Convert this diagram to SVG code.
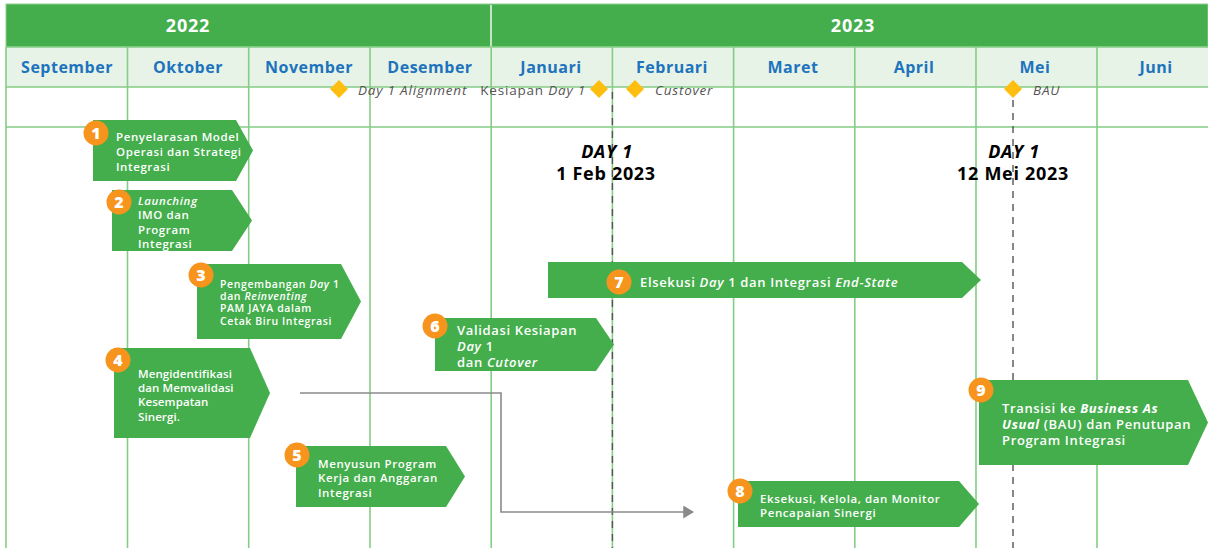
<svg xmlns="http://www.w3.org/2000/svg" width="1208" height="548" viewBox="0 0 1208 548">
<defs>
<style>
.yr{font-family:"Open Sans","Liberation Sans",sans-serif;font-weight:700;font-size:18px;letter-spacing:0.8px;fill:#fff;text-anchor:middle}
.mo{font-family:"Open Sans","Liberation Sans",sans-serif;font-weight:700;font-size:16px;letter-spacing:0.5px;fill:#1d74bd;text-anchor:middle}
.ms{font-family:"Open Sans","Liberation Sans",sans-serif;font-style:italic;font-size:13.5px;letter-spacing:0.8px;fill:#555}
.grid{stroke:#84cd84;stroke-width:1.6;fill:none}
.dash{stroke:#555;stroke-width:1.4;stroke-dasharray:7 6;fill:none}
.box{fill:#43ae4b}
.bt{font-family:"Open Sans","Liberation Sans",sans-serif;font-weight:600;font-size:11.5px;letter-spacing:0.6px;fill:#fff}
.bt4{font-family:"Open Sans","Liberation Sans",sans-serif;font-weight:600;font-size:11.5px;letter-spacing:0.1px;fill:#fff}
.bt2{font-family:"Open Sans","Liberation Sans",sans-serif;font-weight:600;font-size:13px;letter-spacing:0.65px;fill:#fff}
.bt3{font-family:"Open Sans","Liberation Sans",sans-serif;font-weight:600;font-size:10.5px;letter-spacing:0.6px;fill:#fff}
.badge{fill:#f7941d}
.bn{font-family:"Open Sans","Liberation Sans",sans-serif;font-weight:800;font-size:16px;fill:#fff;text-anchor:middle}
.dia{fill:#fdbe10}
.day{font-family:"Open Sans","Liberation Sans",sans-serif;font-weight:700;font-size:18px;letter-spacing:0.7px;fill:#000;text-anchor:middle}
.conn{stroke:#8a8a8a;stroke-width:1.6;fill:none}
</style>
<marker id="arr" viewBox="0 0 10 12" refX="9" refY="6" markerWidth="11" markerHeight="13" markerUnits="userSpaceOnUse" orient="auto">
<path d="M0 0 L10 6 L0 12 Z" fill="#8a8a8a"/>
</marker>
</defs>
<rect width="1208" height="548" fill="#fff"/>

<g id="header">
<rect x="6" y="4" width="1202" height="43" fill="#43ae4b" stroke="#8fd08f" stroke-width="1"/>
<line x1="491" y1="5" x2="491" y2="47" stroke="#e6f3e6" stroke-width="1.6"/>
<text class="yr" x="188" y="32">2022</text>
<text class="yr" x="853" y="32">2023</text>
<rect x="6" y="47" width="1202" height="40" fill="#e8f3e7"/>
<text class="mo" x="67" y="73">September</text>
<text class="mo" x="188" y="73">Oktober</text>
<text class="mo" x="309" y="73">November</text>
<text class="mo" x="430" y="73">Desember</text>
<text class="mo" x="551" y="73">Januari</text>
<text class="mo" x="672" y="73">Februari</text>
<text class="mo" x="793" y="73">Maret</text>
<text class="mo" x="914" y="73">April</text>
<text class="mo" x="1035" y="73">Mei</text>
<text class="mo" x="1156" y="73">Juni</text>
</g>

<g id="grid">
<path class="grid" d="M6 47 V548 M127.5 47 V548 M248.7 47 V548 M370 47 V548 M491.2 47 V548 M612.4 47 V548 M733.6 47 V548 M854.8 47 V548 M976 47 V548 M1097 47 V548"/>
<path class="grid" d="M6 47 H1208 M6 87 H1208 M6 127 H1208"/>
<path class="dash" d="M612.4 92 V548"/>
<path class="dash" d="M1013 100 V548"/>
</g>

<g id="milestones">
<path class="dia" d="M339 80 L348 89 L339 98 L330 89 Z"/>
<text class="ms" x="358" y="95">Day 1 Alignment</text>
<path class="dia" d="M599 80 L608 89 L599 98 L590 89 Z"/>
<text class="ms" x="586" y="95" text-anchor="end"><tspan font-style="normal">Kesiapan </tspan>Day 1</text>
<path class="dia" d="M635 80 L644 89 L635 98 L626 89 Z"/>
<text class="ms" x="655" y="95">Custover</text>
<path class="dia" d="M1013 80 L1022 89 L1013 98 L1004 89 Z"/>
<text class="ms" x="1033" y="95">BAU</text>
</g>

<g id="day1-labels">
<text class="day" x="607" y="158" font-style="italic">DAY 1</text>
<text class="day" x="606" y="180">1 Feb 2023</text>
<text class="day" x="1014" y="158" font-style="italic">DAY 1</text>
<text class="day" x="1013" y="180">12 Mei 2023</text>
</g>

<g id="connectors">
<path class="conn" d="M300 393 H501 V512 H693" marker-end="url(#arr)"/>
</g>

<g id="node1">
<path class="box" d="M93 120 H236 L253 150.5 L236 181 H93 Z"/>
<circle class="badge" cx="96" cy="133" r="12.5"/>
<text class="bn" x="96" y="139">1</text>
<text class="bt" x="116" y="141">Penyelarasan Model</text>
<text class="bt" x="116" y="156">Operasi dan Strategi</text>
<text class="bt" x="116" y="171">Integrasi</text>
</g>

<g id="node2">
<path class="box" d="M112 190 H232 L252 220.5 L232 251 H112 Z"/>
<circle class="badge" cx="119" cy="202" r="12.5"/>
<text class="bn" x="119" y="208">2</text>
<text class="bt" x="138" y="205" font-style="italic">Launching</text>
<text class="bt" x="138" y="219">IMO dan</text>
<text class="bt" x="138" y="234">Program</text>
<text class="bt" x="138" y="248">Integrasi</text>
</g>

<g id="node3">
<path class="box" d="M197 264 H341 L361 301.5 L341 339 H197 Z"/>
<circle class="badge" cx="201" cy="275" r="12.5"/>
<text class="bn" x="201" y="281">3</text>
<text class="bt3" x="220" y="288">Pengembangan <tspan font-style="italic">Day</tspan> 1</text>
<text class="bt3" x="220" y="300">dan <tspan font-style="italic">Reinventing</tspan></text>
<text class="bt3" x="220" y="312">PAM JAYA dalam</text>
<text class="bt3" x="220" y="325">Cetak Biru Integrasi</text>
</g>

<g id="node4">
<path class="box" d="M114 348 H250 L270 393 L250 438 H114 Z"/>
<circle class="badge" cx="118" cy="360" r="12.5"/>
<text class="bn" x="118" y="366">4</text>
<text class="bt4" x="138" y="378">Mengidentifikasi</text>
<text class="bt4" x="138" y="392">dan Memvalidasi</text>
<text class="bt4" x="138" y="406">Kesempatan</text>
<text class="bt4" x="138" y="421">Sinergi.</text>
</g>

<g id="node5">
<path class="box" d="M296 446 H446 L465 476.5 L446 507 H296 Z"/>
<circle class="badge" cx="297" cy="455" r="12.5"/>
<text class="bn" x="297" y="461">5</text>
<text class="bt" x="318" y="468">Menyusun Program</text>
<text class="bt" x="318" y="482">Kerja dan Anggaran</text>
<text class="bt" x="318" y="497">Integrasi</text>
</g>

<g id="node6">
<path class="box" d="M435 318 H596 L614 344.5 L596 371 H435 Z"/>
<circle class="badge" cx="435" cy="326" r="12.5"/>
<text class="bn" x="435" y="332">6</text>
<text class="bt2" x="457" y="335">Validasi Kesiapan</text>
<text class="bt2" x="457" y="351"><tspan font-style="italic">Day</tspan> 1</text>
<text class="bt2" x="457" y="367">dan <tspan font-style="italic">Cutover</tspan></text>
</g>

<g id="node7">
<path class="box" d="M548 262 H962 L981 280 L962 298 H548 Z"/>
<circle class="badge" cx="619" cy="282" r="12.5"/>
<text class="bn" x="619" y="288">7</text>
<text class="bt2" x="640" y="287">Elsekusi <tspan font-style="italic">Day</tspan> 1 dan Integrasi <tspan font-style="italic">End-State</tspan></text>
</g>

<g id="node8">
<path class="box" d="M738 481 H959 L979 504 L959 527 H738 Z"/>
<circle class="badge" cx="740" cy="491" r="12.5"/>
<text class="bn" x="740" y="497">8</text>
<text class="bt" x="760" y="503">Eksekusi, Kelola, dan Monitor</text>
<text class="bt" x="760" y="517">Pencapaian Sinergi</text>
</g>

<g id="node9">
<path class="box" d="M979 380 H1188 L1208 422.5 L1188 465 H979 Z"/>
<circle class="badge" cx="981" cy="390" r="12.5"/>
<text class="bn" x="981" y="396">9</text>
<text class="bt2" x="1002" y="413">Transisi ke <tspan font-style="italic" font-weight="700">Business As</tspan></text>
<text class="bt2" x="1002" y="429"><tspan font-style="italic" font-weight="700">Usual</tspan> (BAU) dan Penutupan</text>
<text class="bt2" x="1002" y="445">Program Integrasi</text>
</g>
</svg>
